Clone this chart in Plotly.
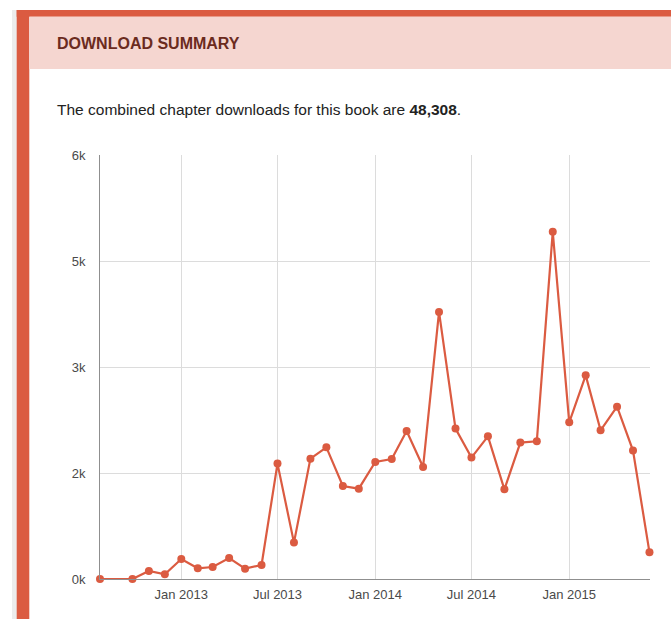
import plotly.graph_objects as go

# Monthly chapter downloads (Sep 2012 has no record)
months = [
    "2012-08-01", "2012-10-01", "2012-11-01", "2012-12-01",
    "2013-01-01", "2013-02-01", "2013-03-01", "2013-04-01", "2013-05-01", "2013-06-01",
    "2013-07-01", "2013-08-01", "2013-09-01", "2013-10-01", "2013-11-01", "2013-12-01",
    "2014-01-01", "2014-02-01", "2014-03-01", "2014-04-01", "2014-05-01", "2014-06-01",
    "2014-07-01", "2014-08-01", "2014-09-01", "2014-10-01", "2014-11-01", "2014-12-01",
    "2015-01-01", "2015-02-01", "2015-03-01", "2015-04-01", "2015-05-01", "2015-06-01",
]
downloads = [
    0, 0, 113, 66,
    283, 151, 170, 297, 146, 198,
    1633, 515, 1703, 1863, 1316, 1278,
    1656, 1698, 2094, 1585, 3780, 2128,
    1718, 2019, 1269, 1930, 1948, 4914,
    2217, 2882, 2104, 2439, 1817, 378,
]

y_tickvals = [0, 1500, 3000, 4500, 6000]
y_ticktext = ["0k", "2k", "3k", "5k", "6k"]

total = sum(downloads)

W, H = 671, 619
ML, MR, MT, MB = 100, 21, 155, 40
PW, PH = W - ML - MR, H - MT - MB

RED = "#db5b41"
PINK = "#f5d6d0"
FONT = "Liberation Sans, Arial, Helvetica, sans-serif"


def px(x):
    return (x - ML) / PW


def py(y):
    return (H - MB - y) / PH


def rect(x0, y0, x1, y1, color):
    return dict(type="rect", xref="paper", yref="paper",
                x0=px(x0), x1=px(x1), y0=py(y1), y1=py(y0),
                fillcolor=color, line=dict(width=0), layer="below")


fig = go.Figure()
fig.add_trace(go.Scatter(
    x=months, y=downloads, mode="lines+markers",
    line=dict(color=RED, width=2.2),
    marker=dict(color=RED, size=8),
    cliponaxis=False, hoverinfo="x+y",
))

shapes = [
    rect(12, 10, 17, H + 5, "#ececec"),
    rect(16.7, 10, 29.3, H + 5, RED),
    rect(16.7, 10, W + 5, 16.7, RED),
    rect(29.3, 16.7, W + 5, 69, PINK),
]

annotations = [
    dict(text="<b>DOWNLOAD SUMMARY</b>", xref="paper", yref="paper",
         x=px(54.5), y=py(43), xanchor="left", yanchor="middle", showarrow=False,
         font=dict(family=FONT, size=16, color="#6b2b1e")),
    dict(text=f"The combined chapter downloads for this book are <b>{total:,}</b>.",
         xref="paper", yref="paper",
         x=px(54.5), y=py(109), xanchor="left", yanchor="middle", showarrow=False,
         font=dict(family=FONT, size=15.5, color="#222222")),
]

fig.update_layout(
    width=W, height=H,
    margin=dict(l=ML, r=MR, t=MT, b=MB),
    paper_bgcolor="white", plot_bgcolor="white",
    showlegend=False,
    shapes=shapes, annotations=annotations,
    font=dict(family=FONT, size=13, color="#4a4a4a"),
    xaxis=dict(
        type="date", range=["2012-08-01", "2015-06-02"],
        tick0="2013-01-01", dtick="M6", tickformat="%b %Y",
        showgrid=True, gridcolor="#dcdcdc", gridwidth=1,
        showline=True, linecolor="#8f8f8f", linewidth=1,
        ticks="outside", ticklen=3, tickcolor="rgba(0,0,0,0)",
        tickfont=dict(family=FONT, size=13, color="#4a4a4a"),
        zeroline=False, fixedrange=True,
    ),
    yaxis=dict(
        range=[0, 6000], tickvals=y_tickvals, ticktext=y_ticktext,
        showgrid=True, gridcolor="#dcdcdc", gridwidth=1,
        showline=True, linecolor="#8f8f8f", linewidth=1,
        ticks="outside", ticklen=11, tickcolor="rgba(0,0,0,0)",
        tickfont=dict(family=FONT, size=13, color="#4a4a4a"),
        zeroline=False, fixedrange=True,
    ),
)

fig.write_html("out.html", config={"displayModeBar": False})
